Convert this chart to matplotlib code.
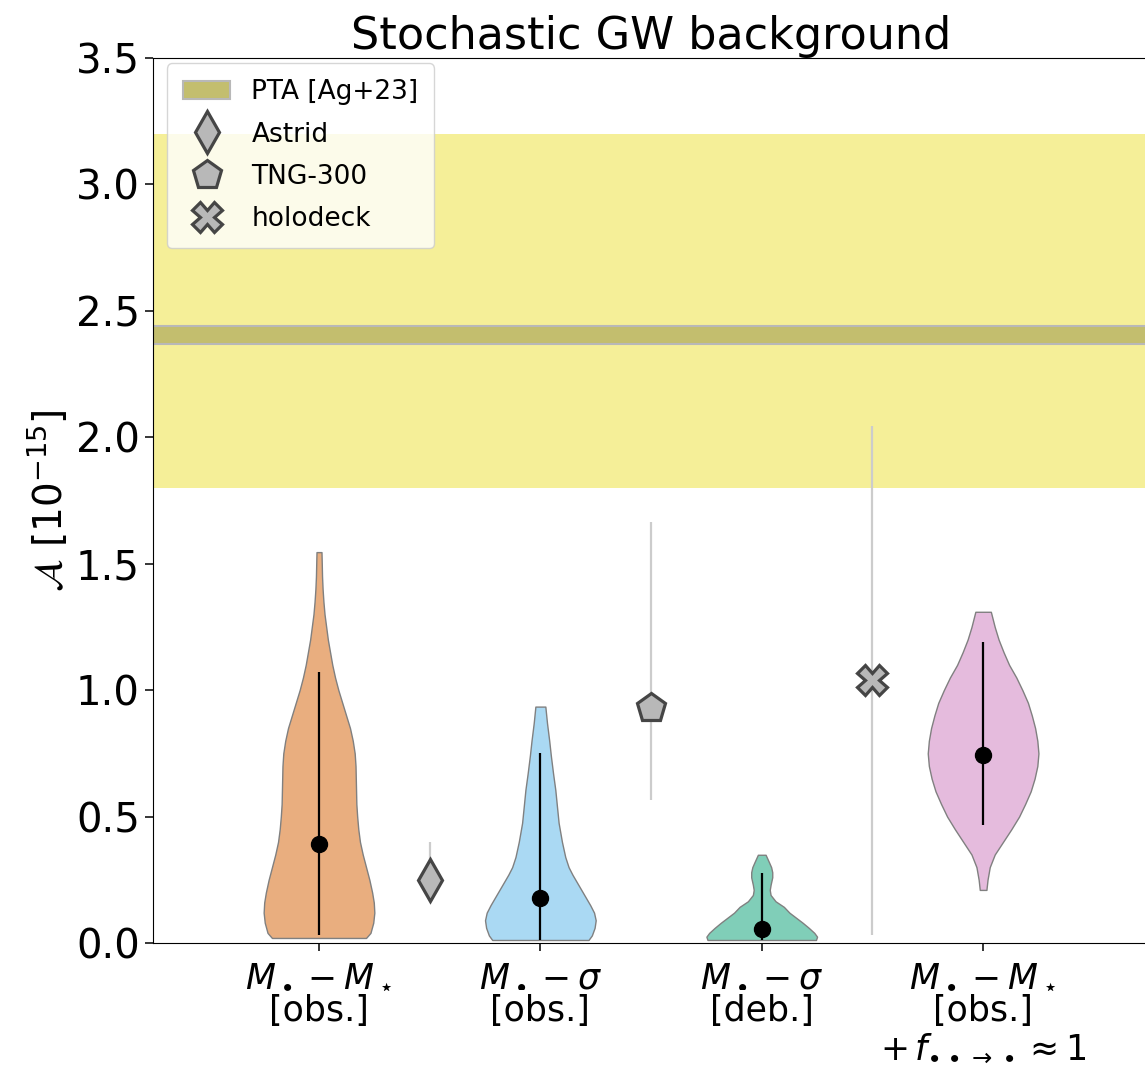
"""
Stochastic GW background amplitude: violin summaries of the model posteriors
against the PTA measurement and three simulation estimates.
"""

import matplotlib
matplotlib.use('Agg')

import numpy as np
import matplotlib.pyplot as plt

# Model labels and colours
labels = [r'$M_\bullet - M_\star$' + '\n[obs.]',
          r'$M_\bullet - \sigma$' + '\n[obs.]',
          r'$M_\bullet - \sigma$' + '\n[deb.]',
          r'$M_\bullet - M_\star$' + '\n[obs.]\n' +
          r'$+\, f_{\bullet\bullet\to\bullet} \approx 1$']
colors = ['#d55e00', '#56b4e9', '#029e73', '#cc78bc']

# Density profiles of each violin (amplitude, relative width)
orange_y = [0.02, 0.04, 0.08, 0.12, 0.16, 0.20, 0.25, 0.30, 0.35, 0.40, 0.45,
            0.50, 0.55, 0.60, 0.65, 0.70, 0.75, 0.80, 0.85, 0.90, 0.95, 1.00,
            1.05, 1.10, 1.15, 1.20, 1.25, 1.30, 1.35, 1.40, 1.45, 1.50, 1.546]
orange_w = [0.85, 0.93, 0.98, 1.00, 0.99, 0.96, 0.91, 0.85, 0.79, 0.74, 0.71,
            0.69, 0.675, 0.67, 0.665, 0.66, 0.645, 0.61, 0.56, 0.49, 0.42, 0.35,
            0.29, 0.24, 0.20, 0.16, 0.13, 0.10, 0.08, 0.065, 0.055, 0.05, 0.045]
blue_y = [0.012, 0.03, 0.06, 0.09, 0.12, 0.15, 0.18, 0.21, 0.24, 0.27, 0.30,
          0.34, 0.40, 0.475, 0.54, 0.606, 0.67, 0.74, 0.80, 0.87, 0.935]
blue_w = [0.87, 0.93, 0.98, 1.00, 0.97, 0.90, 0.82, 0.74, 0.66, 0.58, 0.51,
          0.45, 0.39, 0.33, 0.30, 0.27, 0.23, 0.19, 0.16, 0.12, 0.09]
green_y = [0.012, 0.025, 0.04, 0.06, 0.08, 0.10, 0.12, 0.143, 0.165, 0.19,
           0.21, 0.23, 0.26, 0.28, 0.30, 0.32, 0.349]
green_w = [0.98, 1.00, 0.95, 0.85, 0.74, 0.62, 0.50, 0.40, 0.25, 0.16,
           0.145, 0.16, 0.19, 0.19, 0.17, 0.13, 0.07]
pink_y = [0.21, 0.25, 0.30, 0.35, 0.40, 0.45, 0.50, 0.55, 0.60, 0.65, 0.70,
          0.75, 0.80, 0.85, 0.90, 0.95, 1.00, 1.05, 1.10, 1.15, 1.20, 1.25, 1.31]
pink_w = [0.06, 0.08, 0.12, 0.21, 0.36, 0.51, 0.65, 0.76, 0.86, 0.93, 0.98,
          1.00, 0.98, 0.94, 0.88, 0.81, 0.71, 0.60, 0.47, 0.37, 0.28, 0.21, 0.14]

profiles_y = [orange_y, blue_y, green_y, pink_y]
profiles_w = [orange_w, blue_w, green_w, pink_w]
medians = [0.39, 0.18, 0.055, 0.745]
lo = [0.03, 0.01, 0.012, 0.468]
hi = [1.07, 0.753, 0.277, 1.19]

# PTA measurement [Ag+23]
pta_lo, pta_hi = 1.8, 3.2
pta_mid_lo, pta_mid_hi = 2.37, 2.44

# Simulation estimates
sim_names = ['Astrid', 'TNG-300', 'holodeck']
sim_markers = ['d', 'p', 'X']
sim_x = [1.5, 2.5, 3.5]
sim_val = [0.25, 0.93, 1.042]
sim_lo = [0.17, 0.567, 0.03]
sim_hi = [0.40, 1.665, 2.045]


def main():
    my_dpi = 100
    fig = plt.figure(figsize=(1145/my_dpi, 1067/my_dpi), dpi=my_dpi)
    ax = fig.add_axes([0.1336, 0.1162, 0.87, 0.8294])

    ax.axhspan(pta_lo, pta_hi, color='#ece133', alpha=0.5, lw=0, zorder=0)
    ax.axhspan(pta_mid_lo, pta_mid_hi, facecolor='#c3be6e', edgecolor='0.72',
               lw=1.5, zorder=1, label='PTA [Ag+23]')

    positions = np.arange(1, len(labels) + 1)
    vpstats = []
    for ys, ws, med in zip(profiles_y, profiles_w, medians):
        vpstats.append(dict(coords=np.array(ys), vals=np.array(ws),
                            mean=med, median=med, min=ys[0], max=ys[-1]))
    parts = ax.violin(vpstats, positions=positions, widths=0.5,
                      showmeans=False, showextrema=False, showmedians=False)
    for body, c in zip(parts['bodies'], colors):
        body.set_alpha(None)
        body.set_facecolor(matplotlib.colors.to_rgba(c, 0.5))
        body.set_edgecolor('0.5')
        body.set_linewidth(1.0)
        body.set_zorder(2)

    ax.vlines(positions, lo, hi, color='k', lw=1.6, zorder=3)
    ax.plot(positions, medians, 'o', color='k', ms=11.5, zorder=4)

    for x, v, l, h, m, name in zip(sim_x, sim_val, sim_lo, sim_hi,
                                   sim_markers, sim_names):
        ax.vlines(x, l, h, color='0.8', lw=1.6, zorder=2)
        ax.plot(x, v, ls='none', marker=m, ms=21, mfc='0.72', mec='0.27',
                mew=2.3, zorder=5, label=name)

    ax.set_xlim(0.25, 4.75)
    ax.set_ylim(0, 3.5)
    ax.set_xticks(positions)
    ax.set_xticklabels(labels, fontsize=25, linespacing=1.08)
    ax.tick_params(axis='x', length=6, width=1.1, pad=5)
    ax.tick_params(axis='y', labelsize=29, length=6, width=1.1)
    ax.set_ylabel(r'$\mathcal{A}$ [$10^{-15}$]', fontsize=28)
    ax.set_title('Stochastic GW background', fontsize=32)

    ax.legend(loc='upper left', bbox_to_anchor=(0.014, 0.994),
              borderaxespad=0, fontsize=19, handlelength=1.8,
              handletextpad=0.8, labelspacing=0.62, borderpad=0.6)

    fig.savefig('out.png', dpi=my_dpi)


if __name__ == "__main__":
    main()
